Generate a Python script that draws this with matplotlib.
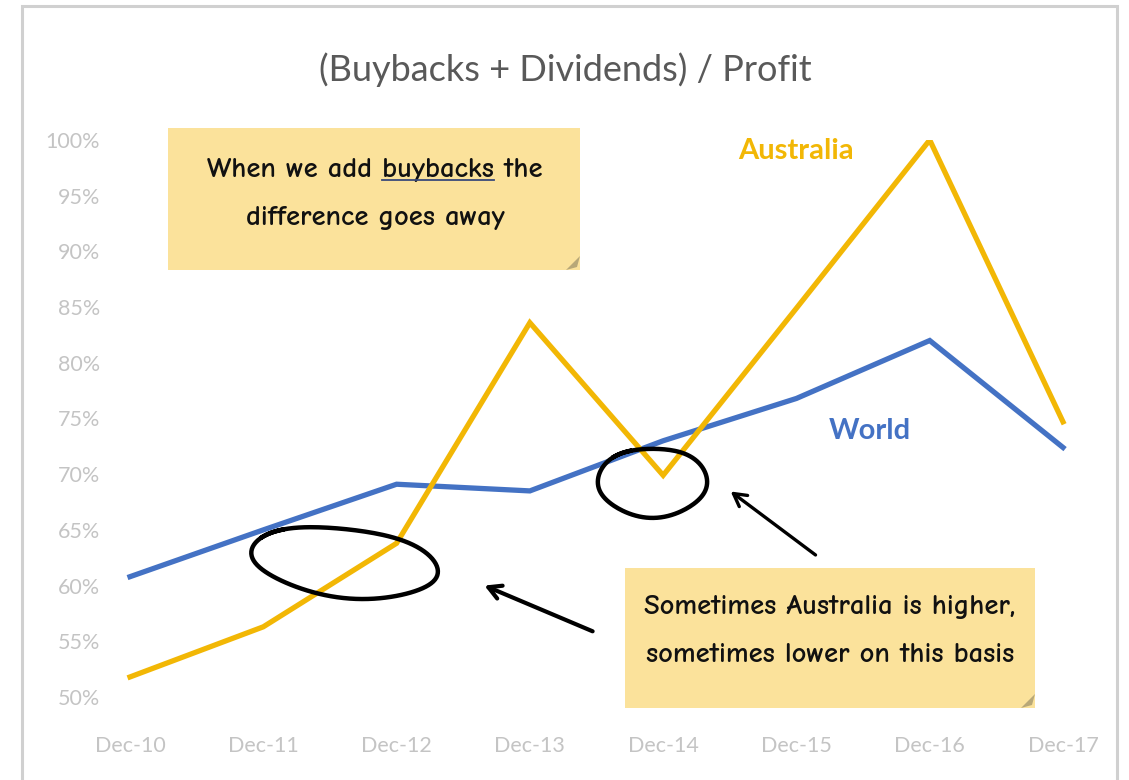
import numpy as np
import matplotlib
matplotlib.use("Agg")
import matplotlib.pyplot as plt
from matplotlib.patches import Rectangle, Polygon

# data (percent)
periods = ["Dec-10", "Dec-11", "Dec-12", "Dec-13", "Dec-14", "Dec-15", "Dec-16", "Dec-17"]
world = [60.8, 65.0, 69.1, 68.5, 73.0, 76.8, 82.0, 72.4]
australia = [51.8, 56.3, 63.8, 83.6, 69.9, 84.9, 100.0, 74.7]
yticks = [50, 55, 60, 65, 70, 75, 80, 85, 90, 95, 100]

gold = "#F2B705"
blue = "#4472C4"
note_col = "#FBE29B"
plt.rcParams['font.family'] = ['Lato', 'DejaVu Sans']

W, H = 1129, 780
fig = plt.figure(figsize=(W / 100, H / 100), dpi=100)

# axes placed so Dec-10 sits at x=130 and Dec-17 at x=1063, 50% at y=697, 100% at y=140
step = (1063 - 130) / 7
left_px, right_px = 110, 1063 + 0.3 * step
ax = fig.add_axes([left_px / W, 1 - 697 / H, (right_px - left_px) / W, (697 - 140) / H])
x = np.arange(len(periods))
ax.plot(x, world, color=blue, lw=3.8, solid_joinstyle="miter", zorder=3)
ax.plot(x, australia, color=gold, lw=3.8, solid_joinstyle="miter", zorder=3)
ax.set_xlim(-(130 - left_px) / step, 7.3)
ax.set_ylim(50, 100)
ax.set_yticks(yticks)
ax.set_yticklabels([f"{v}%" for v in yticks])
ax.set_xticks(x)
ax.set_xticklabels(periods)
ax.tick_params(length=0, labelsize=15.5, colors="#C4C4C4")
ax.tick_params(axis="x", pad=28)
ax.tick_params(axis="y", pad=7)
for s in ax.spines.values():
    s.set_visible(False)

# series labels
ax.text(5.0, 99.0, "Australia", color=gold, fontsize=21, fontweight="bold", ha="center", va="center")
ax.text(5.55, 73.9, "World", color=blue, fontsize=21, fontweight="bold", ha="center", va="center")

# title
fig.text(565 / W, 1 - 70 / H, "(Buybacks + Dividends) / Profit", ha="center", va="center",
         fontsize=26, color="#595959")

# outer frame
fig.patches.append(Rectangle((22 / W, -0.01), (1117 - 22) / W, 1 - 6 / H + 0.01,
                             transform=fig.transFigure, fill=False, ec="#D0D0D0", lw=2.2))

# sticky notes
def note(x0, y0, x1, y1):
    fig.patches.append(Rectangle((x0 / W, 1 - y1 / H), (x1 - x0) / W, (y1 - y0) / H,
                                 transform=fig.transFigure, fc=note_col, ec="none", zorder=5))
    fold = Polygon([((x1 - 14) / W, 1 - y1 / H), (x1 / W, 1 - (y1 - 14) / H), ((x1 - 3) / W, 1 - (y1 - 3) / H)],
                   closed=True, transform=fig.transFigure, fc="#B8A878", ec="none", zorder=6)
    fig.patches.append(fold)

note(168, 128, 580, 270)
note(625, 568, 1035, 708)

hand = dict(fontsize=20.5, fontweight="bold", color="#111111", ha="center", va="center",
            family=["Comic Neue", "Comic Sans MS", "DejaVu Sans"], zorder=7)
line1 = fig.text(375 / W, 1 - 170 / H, "When we add buybacks the", **hand)
fig.text(375 / W, 1 - 218 / H, "difference goes away", **hand)
fig.text(830 / W, 1 - 607 / H, "Sometimes Australia is higher,", **hand)
fig.text(830 / W, 1 - 655 / H, "sometimes lower on this basis", **hand)

# underline "buybacks"
fig.canvas.draw()
r = fig.canvas.get_renderer()
full = line1.get_window_extent(r)
tmp1 = fig.text(0, 0, "When we add buybacks", **hand)
tmp2 = fig.text(0, 0, "buybacks", **hand)
w1 = tmp1.get_window_extent(r).width
w2 = tmp2.get_window_extent(r).width
tmp1.remove()
tmp2.remove()
ux1 = full.x0 + w1
ux0 = ux1 - w2
uy = full.y0 + 2
fig.add_artist(plt.Line2D([ux0 / W, ux1 / W], [uy / H, uy / H], transform=fig.transFigure,
                          color="#3A4A7A", lw=1.3, zorder=8))

# hand-drawn circles
def loop(cx, cy, a, b, tilt, t0):
    t = np.linspace(t0, t0 + 2 * np.pi + 0.35, 200)
    xs = cx + a * np.cos(t)
    ys = cy + b * np.sin(t) * (1 + 0.04 * np.sin(3 * t)) + tilt * (xs - cx)
    ax.plot(xs, ys, color="black", lw=3.2, zorder=4, clip_on=False)

loop(1.61, 62.1, 0.70, 3.1, -1.2, 2.3)
loop(3.92, 69.3, 0.41, 3.1, 0.0, 2.0)

# arrows
arrow = dict(arrowstyle="->,head_length=0.9,head_width=0.5", color="black", lw=3.0)
ax.annotate("", xy=(2.64, 60.1), xytext=(3.49, 55.8), arrowprops=arrow, zorder=4)
ax.annotate("", xy=(4.49, 68.6), xytext=(5.16, 62.6),
            arrowprops=dict(arrowstyle="->,head_length=0.9,head_width=0.5", color="black", lw=2.4), zorder=4)

fig.savefig("out.png", dpi=100)
